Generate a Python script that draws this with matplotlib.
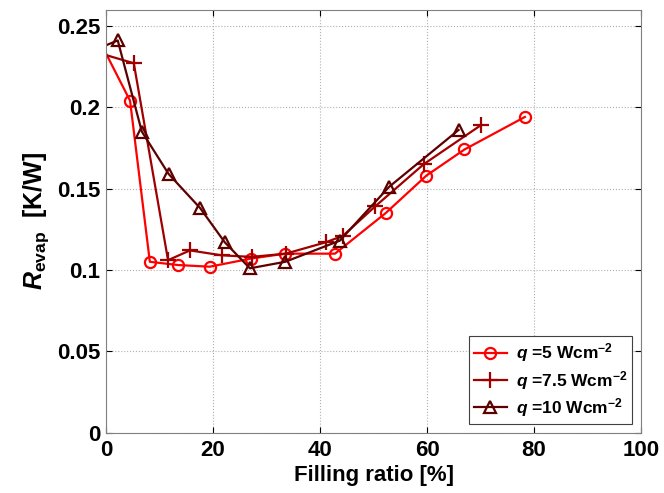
import matplotlib
matplotlib.use("Agg")
import matplotlib.pyplot as plt

plt.rcParams['font.family'] = ['Liberation Sans', 'DejaVu Sans']
plt.rcParams['font.weight'] = 'bold'
plt.rcParams['axes.labelweight'] = 'bold'
plt.rcParams['mathtext.fontset'] = 'custom'
plt.rcParams['mathtext.rm'] = 'Liberation Sans:bold'
plt.rcParams['mathtext.bf'] = 'Liberation Sans:bold'
plt.rcParams['mathtext.it'] = 'Liberation Sans:italic:bold'

# q = 5 W/cm2
fr_5 = [0, 4.5, 8.2, 13.5, 19.4, 27.1, 33.5, 42.8, 52.3, 59.9, 67.0, 78.3]
r_5 = [0.233, 0.204, 0.105, 0.103, 0.102, 0.107, 0.110, 0.110, 0.135, 0.158, 0.174, 0.194]

# q = 7.5 W/cm2
fr_75 = [0, 5.2, 11.6, 15.7, 21.6, 27.2, 33.6, 41.1, 44.3, 50.3, 59.4, 70.1]
r_75 = [0.232, 0.227, 0.106, 0.112, 0.109, 0.108, 0.110, 0.117, 0.121, 0.139, 0.165, 0.189]

# q = 10 W/cm2
fr_10 = [0, 2.2, 6.7, 11.7, 17.6, 22.2, 26.9, 33.5, 43.7, 52.9, 65.9]
r_10 = [0.238, 0.241, 0.185, 0.159, 0.138, 0.117, 0.101, 0.105, 0.118, 0.151, 0.186]

labels = [r'$q$ =5 Wcm$^{-2}$', r'$q$ =7.5 Wcm$^{-2}$', r'$q$ =10 Wcm$^{-2}$']
colors = ['#ff0000', '#a00000', '#5c0000']

xticks = [0, 20, 40, 60, 80, 100]
yticks = [0, 0.05, 0.1, 0.15, 0.2, 0.25]
yticklabels = ['0', '0.05', '0.1', '0.15', '0.2', '0.25']

fig = plt.figure(figsize=(6.64, 4.93), dpi=100)
ax = fig.add_axes([0.1596, 0.1223, 0.8058, 0.8584])

ax.plot(fr_5, r_5, '-o', color=colors[0], mfc='none', ms=8, lw=1.6, mew=1.6,
        markevery=slice(1, None), label=labels[0])
ax.plot(fr_75, r_75, '-+', color=colors[1], ms=11, lw=1.6, mew=1.6,
        markevery=slice(1, None), label=labels[1])
ax.plot(fr_10, r_10, '-^', color=colors[2], mfc='none', ms=9, lw=1.6, mew=1.6,
        markevery=slice(1, None), label=labels[2])

ax.set_xlim(0, 100)
ax.set_ylim(0, 0.26)
ax.set_xticks(xticks)
ax.set_yticks(yticks)
ax.set_yticklabels(yticklabels)
ax.tick_params(direction='in', top=True, right=True, labelsize=16, length=4, width=0.8)
ax.tick_params(axis='x', pad=5)
ax.tick_params(axis='y', pad=4)
ax.grid(True, linestyle=':', color='#b0b0b0', linewidth=0.8)
for s in ax.spines.values():
    s.set_color('#808080')

ax.set_xlabel('Filling ratio [%]', fontsize=16, labelpad=3)
ax.set_ylabel(r'$R_{\mathrm{evap}}$  [K/W]', fontsize=18, labelpad=4)

leg = ax.legend(loc='lower right', fontsize=12.5, numpoints=1, handlelength=1.9,
                fancybox=False, edgecolor='#404040', framealpha=1,
                borderaxespad=0.5, labelspacing=0.25, handletextpad=0.5, borderpad=0.3)
leg.get_frame().set_linewidth(0.8)

fig.savefig('out.png', dpi=100)
